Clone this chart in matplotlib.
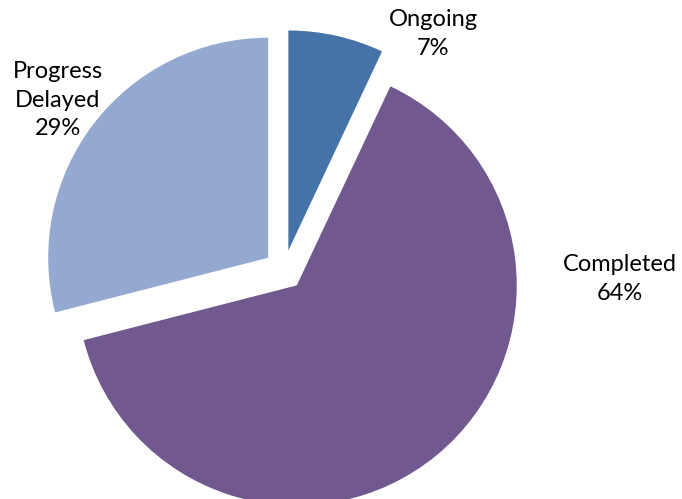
import matplotlib
matplotlib.use("Agg")
import matplotlib.pyplot as plt

# slice data, in drawing order (clockwise from 12 o'clock)
categories = ["Ongoing", "Completed", "Progress\nDelayed"]
percentages = [7, 64, 29]
colors = ["#4673A7", "#71588F", "#94A9CF"]

# label anchors in pixel space (Excel "best fit" placement)
label_pos = [(433, 465), (620, 220), (58, 399)]

plt.rcParams['font.family'] = ['Lato', 'DejaVu Sans']

fig = plt.figure(figsize=(6.82, 4.99), dpi=100)
ax = fig.add_axes([0, 0, 1, 1])

ax.pie(percentages, colors=colors, startangle=90, counterclock=False,
       explode=[20] * len(percentages), radius=220, center=(284, 229),
       wedgeprops=dict(linewidth=0))

for name, pct, (x, y) in zip(categories, percentages, label_pos):
    ax.text(x, y, "{}\n{}%".format(name, pct), ha='center', va='center',
            fontsize=17, color='black', linespacing=1.45)

ax.set_xlim(0, 682)
ax.set_ylim(0, 499)
ax.set_aspect('equal')
ax.axis('off')

fig.savefig("out.png", dpi=100)
